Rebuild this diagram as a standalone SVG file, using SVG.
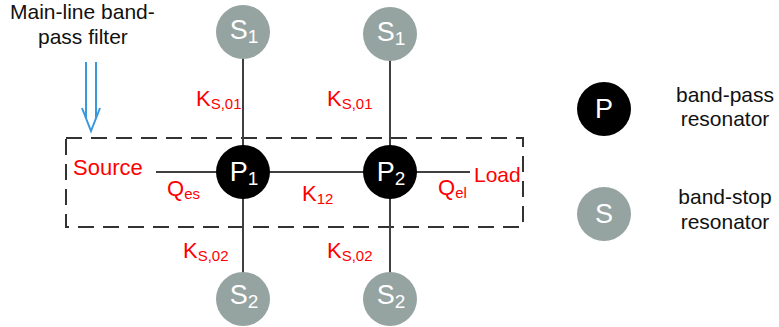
<svg xmlns="http://www.w3.org/2000/svg" width="779" height="327" viewBox="0 0 779 327">
<style>
text{font-family:"Liberation Sans",Arial,sans-serif}
.lbl{fill:#ff0000;font-size:22px}
.sub{font-size:15px}
.blk{fill:#111;font-size:21px}
.ctext{fill:#fff;font-size:27px;text-anchor:middle}
.csub{font-size:19px}
.ln{stroke:#404040;stroke-width:2;fill:none}
.sres{fill:#95a3a1}
.pres{fill:#000}
</style>
<rect width="779" height="327" fill="#fff"/>
<g id="filter-box">
<rect x="66" y="138" width="457" height="89" fill="none" stroke="#333" stroke-width="2" stroke-dasharray="16 9"/>
</g>
<g id="title">
<text class="blk" x="10" y="19">Main-line band-</text>
<text class="blk" x="38" y="44">pass filter</text>
</g>
<g id="arrow" stroke="#3a98dd" stroke-width="2" fill="none">
<line x1="86" y1="62" x2="86" y2="118"/>
<line x1="96" y1="62" x2="96" y2="118"/>
<polyline points="82,108 91,131 100,108"/>
</g>
<g id="connectors">
<line class="ln" x1="243" y1="58" x2="243" y2="273"/>
<line class="ln" x1="390" y1="60" x2="390" y2="273"/>
<line class="ln" x1="156" y1="172" x2="470" y2="172"/>
</g>
<g id="S1a"><circle class="sres" cx="243" cy="32" r="27"/><text class="ctext" x="244" y="39">S<tspan class="csub" dy="4">1</tspan></text></g>
<g id="S1b"><circle class="sres" cx="390" cy="34" r="27"/><text class="ctext" x="391" y="41">S<tspan class="csub" dy="4">1</tspan></text></g>
<g id="P1"><circle class="pres" cx="243" cy="172" r="27"/><text class="ctext" x="244" y="181">P<tspan class="csub" dy="4">1</tspan></text></g>
<g id="P2"><circle class="pres" cx="390" cy="172" r="27"/><text class="ctext" x="391" y="181">P<tspan class="csub" dy="4">2</tspan></text></g>
<g id="S2a"><circle class="sres" cx="243" cy="299" r="27"/><text class="ctext" x="244" y="304">S<tspan class="csub" dy="4">2</tspan></text></g>
<g id="S2b"><circle class="sres" cx="390" cy="299" r="27"/><text class="ctext" x="391" y="304">S<tspan class="csub" dy="4">2</tspan></text></g>
<g id="labels">
<text class="lbl" x="196" y="106">K<tspan class="sub" dy="3">S,01</tspan></text>
<text class="lbl" x="327" y="106">K<tspan class="sub" dy="3">S,01</tspan></text>
<text class="lbl" x="183" y="258">K<tspan class="sub" dy="3">S,02</tspan></text>
<text class="lbl" x="327" y="258">K<tspan class="sub" dy="3">S,02</tspan></text>
<text class="lbl" x="73" y="175">Source</text>
<text class="lbl" x="474" y="182" style="font-size:21px">Load</text>
<text class="lbl" x="167" y="196">Q<tspan class="sub" dy="3">es</tspan></text>
<text class="lbl" x="302" y="201">K<tspan class="sub" dy="3">12</tspan></text>
<text class="lbl" x="438" y="195">Q<tspan class="sub" dy="3">el</tspan></text>
</g>
<g id="legend-P"><circle class="pres" cx="604" cy="109" r="27"/><text class="ctext" x="604" y="118">P</text></g>
<g id="legend-S"><circle class="sres" cx="604" cy="214" r="27"/><text class="ctext" x="604" y="223">S</text></g>
<g id="legend-text" text-anchor="middle">
<text class="blk" x="725" y="102">band-pass</text>
<text class="blk" x="725" y="126">resonator</text>
<text class="blk" x="725" y="204">band-stop</text>
<text class="blk" x="725" y="229">resonator</text>
</g>
</svg>
